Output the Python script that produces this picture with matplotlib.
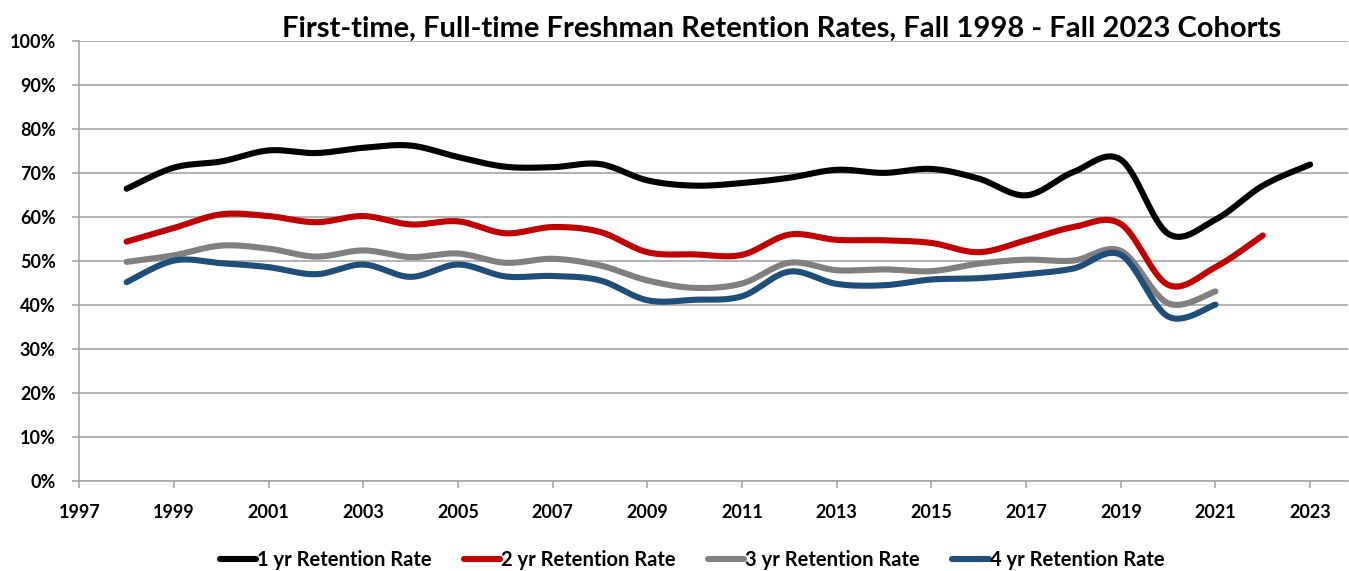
import numpy as np
import matplotlib
matplotlib.use("Agg")
import matplotlib.pyplot as plt
from matplotlib.ticker import FuncFormatter, MultipleLocator

plt.rcParams['font.family'] = ['Lato', 'DejaVu Sans']

years = list(range(1998, 2024))
ret1 = [66.4, 71.2, 72.6, 75.1, 74.5, 75.7, 76.2, 73.6, 71.4, 71.3, 72.0, 68.3, 67.1, 67.7,
        68.9, 70.7, 70.0, 70.9, 68.7, 64.9, 70.2, 73.0, 56.2, 59.4, 67.1, 71.9]
ret2 = [54.4, 57.5, 60.6, 60.2, 58.8, 60.2, 58.3, 59.0, 56.3, 57.7, 56.6, 52.0, 51.5, 51.4,
        56.0, 54.8, 54.7, 54.1, 52.0, 54.7, 57.7, 58.4, 44.6, 48.6, 55.8]
ret3 = [49.8, 51.3, 53.5, 52.8, 51.0, 52.4, 50.9, 51.7, 49.6, 50.5, 49.0, 45.6, 43.9, 44.9,
        49.6, 47.9, 48.1, 47.7, 49.4, 50.3, 50.1, 52.3, 40.4, 43.1]
ret4 = [45.2, 50.1, 49.5, 48.6, 47.0, 49.2, 46.4, 49.2, 46.5, 46.6, 45.6, 41.1, 41.2, 42.0,
        47.6, 44.8, 44.5, 45.8, 46.1, 47.0, 48.3, 51.4, 37.4, 40.1]

labels = ["1 yr Retention Rate", "2 yr Retention Rate", "3 yr Retention Rate", "4 yr Retention Rate"]
colors = ["#000000", "#C00000", "#808080", "#1F4E79"]
title = "First-time, Full-time Freshman Retention Rates, Fall 1998 - Fall 2023 Cohorts"


def smooth(x, y, n=30):
    """Excel-like smoothed line: cubic Bezier through the points (Catmull-Rom)."""
    x = np.asarray(x, float)
    y = np.asarray(y, float)
    P = np.column_stack([x, y])
    out = [P[0]]
    t = np.linspace(0, 1, n)[1:]
    for i in range(len(P) - 1):
        p0 = P[i - 1] if i > 0 else P[i]
        p1 = P[i]
        p2 = P[i + 1]
        p3 = P[i + 2] if i + 2 < len(P) else P[i + 1]
        c1 = p1 + (p2 - p0) / 6.0
        c2 = p2 - (p3 - p1) / 6.0
        for tt in t:
            b = ((1 - tt) ** 3) * p1 + 3 * ((1 - tt) ** 2) * tt * c1 + 3 * (1 - tt) * tt ** 2 * c2 + tt ** 3 * p2
            out.append(b)
    out = np.array(out)
    return out[:, 0], out[:, 1]


fig = plt.figure(figsize=(13.49, 5.71), dpi=100)
ax = fig.add_axes([79.3 / 1349, 89.7 / 571, (1348 - 79.3) / 1349, (481.3 - 40.7) / 571])

for vals, lab, col in zip([ret1, ret2, ret3, ret4], labels, colors):
    xs, ys = smooth(years[:len(vals)], vals)
    ax.plot(xs, ys, color=col, lw=4.4, solid_capstyle='round', solid_joinstyle='round', label=lab, zorder=3)

ax.set_xlim(1997, 2023.8)
ax.set_ylim(0, 100)
ax.set_xticks(list(range(1997, 2024, 2)))
ax.yaxis.set_major_locator(MultipleLocator(10))
ax.yaxis.set_major_formatter(FuncFormatter(lambda v, p: f"{int(round(v))}%"))
ax.grid(axis='y', color='#A6A6A6', lw=1.2, zorder=0)
for s in ['top', 'right']:
    ax.spines[s].set_visible(False)
for s in ['left', 'bottom']:
    ax.spines[s].set_color('#A6A6A6')
    ax.spines[s].set_linewidth(1.2)
ax.tick_params(axis='y', length=5, color='#A6A6A6', width=1.2, pad=12)
ax.tick_params(axis='x', length=5, color='#A6A6A6', width=1.2, pad=11)
for lab in ax.get_xticklabels() + ax.get_yticklabels():
    lab.set_fontsize(13)
    lab.set_fontweight('bold')

fig.text(0.579, 0.950, title, ha='center', va='center', fontsize=21, fontweight='bold')

leg = fig.legend(loc='center', bbox_to_anchor=(0.513, 0.020), ncol=4, frameon=False,
                 prop={'size': 14.5, 'weight': 'bold'}, handlelength=1.8, handletextpad=0.05,
                 columnspacing=1.6)

fig.savefig("out.png", dpi=100, facecolor='white')
